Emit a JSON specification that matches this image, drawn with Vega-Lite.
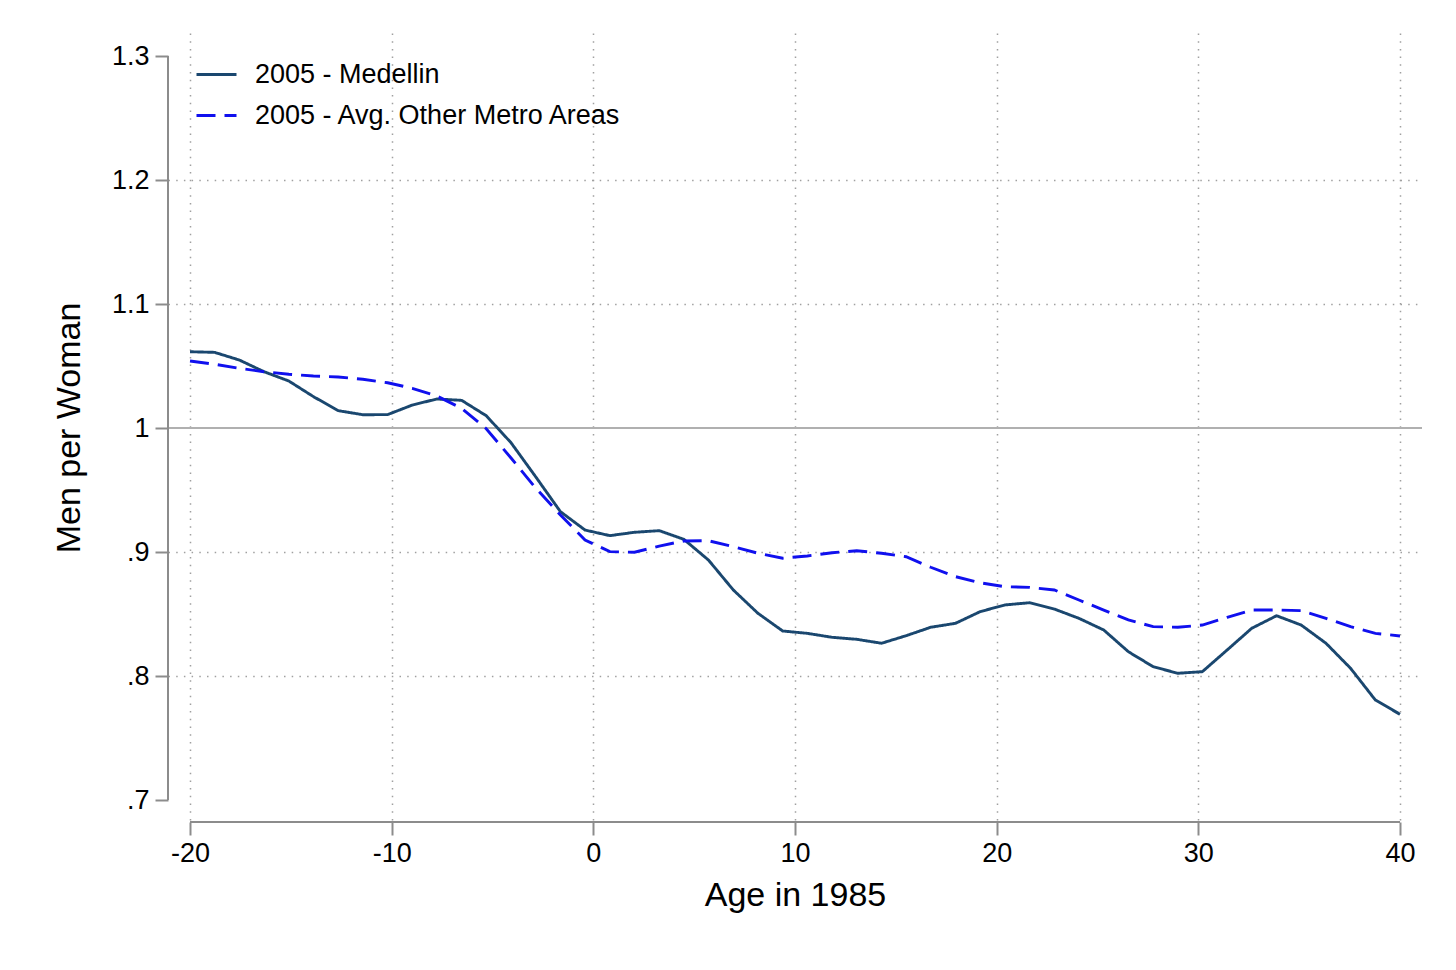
{
  "$schema": "https://vega.github.io/schema/vega-lite/v6.json",
  "width": 1254,
  "height": 789,
  "autosize": "none",
  "padding": {"left": 168, "top": 33, "right": 34, "bottom": 148},
  "background": "white",
  "config": {
    "font": "Liberation Sans",
    "view": {"stroke": null},
    "axis": {
      "labelColor": "black",
      "titleColor": "black",
      "titleFontWeight": "normal",
      "labelFontSize": 27,
      "titleFontSize": 34,
      "tickColor": "#8c8c8c",
      "tickWidth": 2,
      "tickSize": 13,
      "domain": false,
      "labelFlush": false,
      "labelOverlap": false,
      "labelBound": false,
      "gridColor": "#a0a0a0",
      "gridDash": [1.5, 6.2],
      "gridWidth": 1.5
    }
  },
  "layer": [
    {
      "data": {"values": [{}]},
      "mark": {"type": "rule", "color": "#b0b0b0", "strokeWidth": 2},
      "encoding": {"y": {"datum": 1, "type": "quantitative"}}
    },
    {
      "data": {
        "values": [
          {"age": -20, "ratio": 1.0615, "series": "2005 - Medellin"},
          {"age": -18.78, "ratio": 1.061, "series": "2005 - Medellin"},
          {"age": -17.55, "ratio": 1.0548, "series": "2005 - Medellin"},
          {"age": -16.33, "ratio": 1.0454, "series": "2005 - Medellin"},
          {"age": -15.1, "ratio": 1.0379, "series": "2005 - Medellin"},
          {"age": -13.88, "ratio": 1.0253, "series": "2005 - Medellin"},
          {"age": -12.65, "ratio": 1.014, "series": "2005 - Medellin"},
          {"age": -11.43, "ratio": 1.0107, "series": "2005 - Medellin"},
          {"age": -10.2, "ratio": 1.0108, "series": "2005 - Medellin"},
          {"age": -8.98, "ratio": 1.0185, "series": "2005 - Medellin"},
          {"age": -7.76, "ratio": 1.0234, "series": "2005 - Medellin"},
          {"age": -6.53, "ratio": 1.0223, "series": "2005 - Medellin"},
          {"age": -5.31, "ratio": 1.0099, "series": "2005 - Medellin"},
          {"age": -4.08, "ratio": 0.9881, "series": "2005 - Medellin"},
          {"age": -2.86, "ratio": 0.9607, "series": "2005 - Medellin"},
          {"age": -1.63, "ratio": 0.9325, "series": "2005 - Medellin"},
          {"age": -0.41, "ratio": 0.9177, "series": "2005 - Medellin"},
          {"age": 0.82, "ratio": 0.9132, "series": "2005 - Medellin"},
          {"age": 2.04, "ratio": 0.9159, "series": "2005 - Medellin"},
          {"age": 3.27, "ratio": 0.9172, "series": "2005 - Medellin"},
          {"age": 4.49, "ratio": 0.9102, "series": "2005 - Medellin"},
          {"age": 5.71, "ratio": 0.8935, "series": "2005 - Medellin"},
          {"age": 6.94, "ratio": 0.8694, "series": "2005 - Medellin"},
          {"age": 8.16, "ratio": 0.8506, "series": "2005 - Medellin"},
          {"age": 9.39, "ratio": 0.8363, "series": "2005 - Medellin"},
          {"age": 10.61, "ratio": 0.8344, "series": "2005 - Medellin"},
          {"age": 11.84, "ratio": 0.8312, "series": "2005 - Medellin"},
          {"age": 13.06, "ratio": 0.8296, "series": "2005 - Medellin"},
          {"age": 14.29, "ratio": 0.8264, "series": "2005 - Medellin"},
          {"age": 15.51, "ratio": 0.8325, "series": "2005 - Medellin"},
          {"age": 16.73, "ratio": 0.8393, "series": "2005 - Medellin"},
          {"age": 17.96, "ratio": 0.8425, "series": "2005 - Medellin"},
          {"age": 19.18, "ratio": 0.8519, "series": "2005 - Medellin"},
          {"age": 20.41, "ratio": 0.8573, "series": "2005 - Medellin"},
          {"age": 21.63, "ratio": 0.8591, "series": "2005 - Medellin"},
          {"age": 22.86, "ratio": 0.854, "series": "2005 - Medellin"},
          {"age": 24.08, "ratio": 0.8465, "series": "2005 - Medellin"},
          {"age": 25.31, "ratio": 0.8371, "series": "2005 - Medellin"},
          {"age": 26.53, "ratio": 0.8196, "series": "2005 - Medellin"},
          {"age": 27.76, "ratio": 0.8075, "series": "2005 - Medellin"},
          {"age": 28.98, "ratio": 0.8022, "series": "2005 - Medellin"},
          {"age": 30.2, "ratio": 0.8035, "series": "2005 - Medellin"},
          {"age": 31.43, "ratio": 0.821, "series": "2005 - Medellin"},
          {"age": 32.65, "ratio": 0.8385, "series": "2005 - Medellin"},
          {"age": 33.88, "ratio": 0.8486, "series": "2005 - Medellin"},
          {"age": 35.1, "ratio": 0.8411, "series": "2005 - Medellin"},
          {"age": 36.33, "ratio": 0.8264, "series": "2005 - Medellin"},
          {"age": 37.55, "ratio": 0.8062, "series": "2005 - Medellin"},
          {"age": 38.78, "ratio": 0.7806, "series": "2005 - Medellin"},
          {"age": 40, "ratio": 0.7691, "series": "2005 - Medellin"},
          {"age": -20, "ratio": 1.054, "series": "2005 - Avg. Other Metro Areas"},
          {"age": -18.78, "ratio": 1.0514, "series": "2005 - Avg. Other Metro Areas"},
          {"age": -17.55, "ratio": 1.0481, "series": "2005 - Avg. Other Metro Areas"},
          {"age": -16.33, "ratio": 1.0454, "series": "2005 - Avg. Other Metro Areas"},
          {"age": -15.1, "ratio": 1.0433, "series": "2005 - Avg. Other Metro Areas"},
          {"age": -13.88, "ratio": 1.0419, "series": "2005 - Avg. Other Metro Areas"},
          {"age": -12.65, "ratio": 1.0411, "series": "2005 - Avg. Other Metro Areas"},
          {"age": -11.43, "ratio": 1.0393, "series": "2005 - Avg. Other Metro Areas"},
          {"age": -10.2, "ratio": 1.0365, "series": "2005 - Avg. Other Metro Areas"},
          {"age": -8.98, "ratio": 1.032, "series": "2005 - Avg. Other Metro Areas"},
          {"age": -7.76, "ratio": 1.0258, "series": "2005 - Avg. Other Metro Areas"},
          {"age": -6.53, "ratio": 1.0159, "series": "2005 - Avg. Other Metro Areas"},
          {"age": -5.31, "ratio": 0.9994, "series": "2005 - Avg. Other Metro Areas"},
          {"age": -4.08, "ratio": 0.9758, "series": "2005 - Avg. Other Metro Areas"},
          {"age": -2.86, "ratio": 0.9516, "series": "2005 - Avg. Other Metro Areas"},
          {"age": -1.63, "ratio": 0.9298, "series": "2005 - Avg. Other Metro Areas"},
          {"age": -0.41, "ratio": 0.9097, "series": "2005 - Avg. Other Metro Areas"},
          {"age": 0.82, "ratio": 0.9003, "series": "2005 - Avg. Other Metro Areas"},
          {"age": 2.04, "ratio": 0.8998, "series": "2005 - Avg. Other Metro Areas"},
          {"age": 3.27, "ratio": 0.9048, "series": "2005 - Avg. Other Metro Areas"},
          {"age": 4.49, "ratio": 0.9089, "series": "2005 - Avg. Other Metro Areas"},
          {"age": 5.71, "ratio": 0.9091, "series": "2005 - Avg. Other Metro Areas"},
          {"age": 6.94, "ratio": 0.9043, "series": "2005 - Avg. Other Metro Areas"},
          {"age": 8.16, "ratio": 0.899, "series": "2005 - Avg. Other Metro Areas"},
          {"age": 9.39, "ratio": 0.895, "series": "2005 - Avg. Other Metro Areas"},
          {"age": 10.61, "ratio": 0.8968, "series": "2005 - Avg. Other Metro Areas"},
          {"age": 11.84, "ratio": 0.8994, "series": "2005 - Avg. Other Metro Areas"},
          {"age": 13.06, "ratio": 0.901, "series": "2005 - Avg. Other Metro Areas"},
          {"age": 14.29, "ratio": 0.899, "series": "2005 - Avg. Other Metro Areas"},
          {"age": 15.51, "ratio": 0.8962, "series": "2005 - Avg. Other Metro Areas"},
          {"age": 16.73, "ratio": 0.8877, "series": "2005 - Avg. Other Metro Areas"},
          {"age": 17.96, "ratio": 0.8801, "series": "2005 - Avg. Other Metro Areas"},
          {"age": 19.18, "ratio": 0.8752, "series": "2005 - Avg. Other Metro Areas"},
          {"age": 20.41, "ratio": 0.872, "series": "2005 - Avg. Other Metro Areas"},
          {"age": 21.63, "ratio": 0.8715, "series": "2005 - Avg. Other Metro Areas"},
          {"age": 22.86, "ratio": 0.8694, "series": "2005 - Avg. Other Metro Areas"},
          {"age": 24.08, "ratio": 0.8613, "series": "2005 - Avg. Other Metro Areas"},
          {"age": 25.31, "ratio": 0.8532, "series": "2005 - Avg. Other Metro Areas"},
          {"age": 26.53, "ratio": 0.8452, "series": "2005 - Avg. Other Metro Areas"},
          {"age": 27.76, "ratio": 0.8398, "series": "2005 - Avg. Other Metro Areas"},
          {"age": 28.98, "ratio": 0.8393, "series": "2005 - Avg. Other Metro Areas"},
          {"age": 30.2, "ratio": 0.8411, "series": "2005 - Avg. Other Metro Areas"},
          {"age": 31.43, "ratio": 0.8473, "series": "2005 - Avg. Other Metro Areas"},
          {"age": 32.65, "ratio": 0.8532, "series": "2005 - Avg. Other Metro Areas"},
          {"age": 33.88, "ratio": 0.8532, "series": "2005 - Avg. Other Metro Areas"},
          {"age": 35.1, "ratio": 0.8527, "series": "2005 - Avg. Other Metro Areas"},
          {"age": 36.33, "ratio": 0.8465, "series": "2005 - Avg. Other Metro Areas"},
          {"age": 37.55, "ratio": 0.8398, "series": "2005 - Avg. Other Metro Areas"},
          {"age": 38.78, "ratio": 0.8344, "series": "2005 - Avg. Other Metro Areas"},
          {"age": 40, "ratio": 0.8323, "series": "2005 - Avg. Other Metro Areas"}
        ]
      },
      "mark": {"type": "line", "strokeWidth": 2.9},
      "encoding": {
        "x": {
          "field": "age",
          "type": "quantitative",
          "scale": {"domain": [-21.091, 41.091], "nice": false, "zero": false},
          "axis": {
            "title": "Age in 1985",
            "values": [-20, -10, 0, 10, 20, 30, 40],
            "labelExpr": "datum.value < 0 ? '-' + abs(datum.value) : '' + datum.value",
            "grid": true,
            "labelPadding": 5,
            "titlePadding": 12
          }
        },
        "y": {
          "field": "ratio",
          "type": "quantitative",
          "scale": {"domain": [0.68226, 1.31855], "nice": false, "zero": false},
          "axis": {
            "title": "Men per Woman",
            "values": [0.7, 0.8, 0.9, 1, 1.1, 1.2, 1.3],
            "labelExpr": "replace(format(datum.value, '.1~f'), '0.', '.')",
            "grid": true,
            "gridOpacity": {
              "condition": {"test": "datum.value > 0.75 && datum.value < 1.25 && abs(datum.value - 1) > 0.05", "value": 1},
              "value": 0
            },
            "labelPadding": 6,
            "titlePadding": 25
          }
        },
        "color": {
          "field": "series",
          "type": "nominal",
          "scale": {
            "domain": ["2005 - Medellin", "2005 - Avg. Other Metro Areas"],
            "range": ["#1a476f", "#1010ee"]
          },
          "legend": {
            "orient": "none",
            "legendX": 27,
            "legendY": 20,
            "title": null,
            "symbolType": "stroke",
            "symbolSize": 1600,
            "symbolStrokeWidth": 2.9,
            "labelFontSize": 27,
            "labelColor": "black",
            "labelOffset": 17,
            "labelLimit": 0,
            "rowPadding": 6,
            "padding": 0
          }
        },
        "strokeDash": {
          "field": "series",
          "type": "nominal",
          "scale": {
            "domain": ["2005 - Medellin", "2005 - Avg. Other Metro Areas"],
            "range": [[1, 0], [19, 9]]
          },
          "legend": {
            "orient": "none",
            "legendX": 27,
            "legendY": 20,
            "title": null,
            "symbolType": "stroke",
            "symbolSize": 1600,
            "symbolStrokeWidth": 2.9,
            "labelFontSize": 27,
            "labelColor": "black",
            "labelOffset": 17,
            "labelLimit": 0,
            "rowPadding": 6,
            "padding": 0
          }
        }
      }
    },
    {
      "data": {"values": [{}]},
      "mark": {"type": "rule", "color": "#8c8c8c", "strokeWidth": 2},
      "encoding": {
        "x": {"datum": -21.091, "type": "quantitative"},
        "y": {"datum": 0.7, "type": "quantitative"},
        "y2": {"datum": 1.3}
      }
    },
    {
      "data": {"values": [{}]},
      "mark": {"type": "rule", "color": "#8c8c8c", "strokeWidth": 2},
      "encoding": {
        "y": {"datum": 0.68226, "type": "quantitative"},
        "x": {"datum": -20, "type": "quantitative"},
        "x2": {"datum": 40}
      }
    }
  ]
}
